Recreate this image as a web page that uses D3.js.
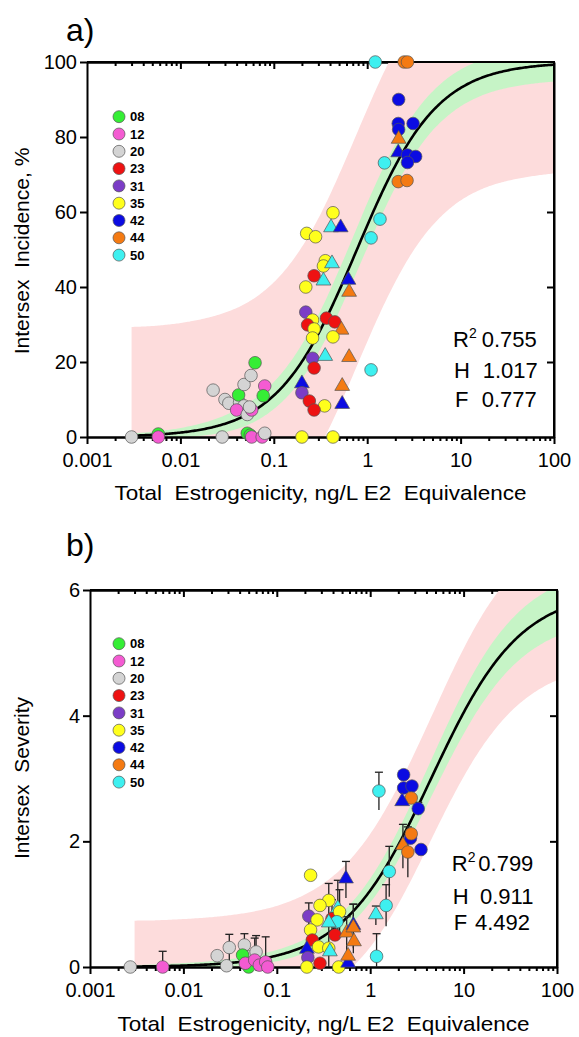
<!DOCTYPE html>
<html>
<head>
<meta charset="utf-8">
<script src="https://cdn.jsdelivr.net/npm/d3@7"></script>
<style>
  body { margin: 0; background: #fff; }
  svg text { font-family: Arial, "Liberation Sans", sans-serif; }
</style>
</head>
<body>
<script>
// legend: sampling sites and their colours
var sites = ["08","12","20","23","31","35","42","44","50"];
var siteColors = ["#35ee35","#f45bd2","#d4d4d4","#ee1212","#7b3dc6","#ffff1c","#0b0be2","#f47a12","#3ef0f0"];

var xTickVals = [0.001, 0.01, 0.1, 1, 10, 100];
var xTickText = ["0.001", "0.01", "0.1", "1", "10", "100"];

// a) intersex incidence (%), tri = 1 for triangle markers
var incSite = ["20","08","12","20","08","08","12","12","20","35","35",
  "20","20","20","20","08","20","20","08","12","08","20","12","20","12","20",
  "35","35","50","23","35","50","42","44","31","35","23","23","23","35","44","35","35","31","50","44","23","42","31","44","23","35","23","42",
  "50","50","44","44","42","42","42","42","44","42","42","42","42","50","44","44","35","35","35","50","42","50","50"];
var incTri = [0,0,0,0,0,0,0,0,0,0,0,
  0,0,0,0,0,0,0,0,0,0,0,0,0,0,0,
  0,0,1,0,0,1,1,1,0,0,0,0,0,0,1,0,0,0,1,1,0,1,0,1,0,0,0,1,
  0,0,0,0,0,0,0,0,1,1,0,0,0,0,0,0,0,0,0,1,1,0,0];
var incX = [0.003,0.0058,0.0058,0.028,0.052,0.056,0.058,0.075,0.08,0.2,0.43,
  0.0224,0.03,0.033,0.043,0.042,0.048,0.057,0.063,0.08,0.077,0.048,0.04,0.052,0.058,0.055,
  0.356,0.34,0.42,0.27,0.22,0.34,0.63,0.64,0.22,0.26,0.23,0.366,0.45,0.27,0.53,0.26,0.43,0.26,0.355,0.64,0.27,0.2,0.2,0.54,0.24,0.35,0.27,0.54,
  1.1,1.22,2.49,2.7,2.17,2.15,3.1,2.17,2.17,2.15,2.7,3.3,2.7,1.53,2.15,2.67,0.43,0.225,0.28,0.41,0.52,1.37,1.1];
var incY = [0,0.8,0,0,1,0.5,0,0,1,0,0,
  12.5,10,9,9.2,11.2,14,16.4,19.8,13.6,11,8.3,7.2,6,7.2,8,
  47,45.6,46,43,40,41.4,41.6,38.4,33.3,31.2,29.9,31.7,30.7,28.8,28.3,26.4,26.7,21,21.3,21,18.4,14,11.8,13.3,9.6,8.3,7.2,8.5,
  17.9,100,100,100,90,83.6,83.6,82,79.2,75.6,75.2,74.8,73.2,73.1,68.1,68.4,59.8,54.3,53.4,55.6,55.6,58.1,53.1];

// b) intersex severity, with error (SD)
var sevSite = ["20","12","20","20","20","20","20","20","08","08","12","12","12","12","12",
  "35","42","35","35","50","31","35","23","35","50","50","35","23","23","35","42","35","50","31","23","35","35",
  "44","42","44","44","42","44","50","50","50","50","50",
  "42","42","42","44","42","42","42","44","44","44","42"];
var sevTri = [0,0,0,0,0,0,0,0,0,0,0,0,0,0,0,
  0,1,0,0,1,0,0,0,0,0,1,0,0,0,0,1,0,1,0,0,0,0,
  1,1,1,1,1,1,0,1,0,0,0,
  0,0,0,0,1,0,0,0,1,0,0];
var sevX = [0.0027,0.006,0.023,0.029,0.031,0.045,0.05,0.06,0.043,0.05,0.046,0.058,0.065,0.076,0.08,
  0.23,0.55,0.36,0.29,0.45,0.22,0.27,0.39,0.47,0.44,0.36,0.23,0.42,0.24,0.28,0.21,0.36,0.37,0.215,0.29,0.21,0.46,
  0.56,0.66,0.66,0.67,0.58,0.58,1.17,1.15,1.48,1.6,1.24,
  2.28,2.28,2.8,2.75,2.2,3.27,2.7,2.75,2.24,2.53,3.5];
var sevY = [0,0,0.18,0.02,0.31,0.35,0.16,0.24,0.19,0,0.06,0.11,0.03,0.08,0,
  1.46,1.39,1.06,0.98,0.92,0.81,0.75,0.77,0.88,0.72,0.69,0.59,0.51,0.43,0.32,0.27,0.3,0.23,0.15,0.06,0,0,
  0.53,0.65,0.61,0.39,0.05,0.16,0.17,0.82,0.98,1.52,2.8,
  3.06,2.85,2.88,2.69,2.62,2.52,2.05,2.12,1.92,1.83,1.87];
var sevErr = [0,0.25,0,0,0.21,0.18,0,0.26,0,0,0,0.35,0,0.4,0,
  0,0.29,0.27,0,0.46,0.21,0,0.3,0.35,0,0,0,0,0,0,0,0.4,0,0,0,0,0,
  0.27,0.35,0.39,0,0,0,0.36,0.15,0.33,0.4,0.3,
  0,0,0,0,0,0.1,0,0,0.35,0.4,0];

// fitted curves (parameters printed on the chart)
var incTop = 100, incH = 1.017, incF = 0.777, incR2 = "0.755";
var sevTop = 6, sevH = 0.911, sevF = 4.492, sevR2 = "0.799";

// confidence (green) and prediction (pink) band half-widths read at bandX
var bandX = [0.003,0.005,0.01,0.02,0.05,0.1,0.2,0.5,1,2,5,10,20,50,100];
var incCiHalf = [0.6,0.8,1.2,1.8,2.8,3.6,4.6,5.6,6,5.8,5.2,4.9,4.7,4.6,4.5];
var incPiHalf = [29,29,29.2,29.5,29.8,30.2,30.6,31,31,31,30.5,30,29.6,29.3,29];
var sevCiHalf = [0.02,0.03,0.04,0.05,0.07,0.09,0.11,0.15,0.19,0.24,0.3,0.34,0.37,0.39,0.4];
var sevPiHalf = [0.73,0.73,0.74,0.75,0.77,0.79,0.82,0.86,0.9,0.94,0.98,1.02,1.06,1.09,1.1];

var W = 579, H = 1037;
var svg = d3.select("body").append("svg").attr("width", W).attr("height", H);
var color = d3.scaleOrdinal(sites, siteColors);

function hill(x, top, h, f) {
  return top * Math.pow(x, h) / (Math.pow(x, h) + Math.pow(f, h));
}

function drawPanel(o) {
  var g = svg.append("g");
  var x = d3.scaleLog().domain([0.001, 100]).range([o.x0, o.x1]);
  var y = d3.scaleLinear().domain([0, o.top]).range([o.y0, o.y1]);
  var minors = [];
  [0.001, 0.01, 0.1, 1, 10].forEach(function(d) {
    for (var k = 2; k <= 9; k++) minors.push(d * k);
  });

  function styleAxis(sel) {
    sel.selectAll("path, line").attr("stroke", "#000").attr("stroke-width", 2);
    sel.attr("font-size", 20).attr("font-family", "Arial, 'Liberation Sans', sans-serif");
    sel.selectAll("text").attr("fill", "#000");
  }

  // inward ticks on top and right (partly hidden by the bands)
  g.append("g").attr("transform", "translate(0," + o.y1 + ")")
    .call(d3.axisBottom(x).tickValues(xTickVals.slice(1, 5)).tickSize(7).tickSizeOuter(0).tickFormat(""))
    .call(styleAxis);
  g.append("g").attr("transform", "translate(0," + o.y1 + ")")
    .call(d3.axisBottom(x).tickValues(minors).tickSize(4).tickSizeOuter(0).tickFormat(""))
    .call(styleAxis);
  g.append("g").attr("transform", "translate(" + o.x1 + ",0)")
    .call(d3.axisLeft(y).tickValues(o.rightTicks).tickSize(7).tickSizeOuter(0).tickFormat(""))
    .call(styleAxis);

  // bands
  var clipId = "clip" + o.name;
  g.append("clipPath").attr("id", clipId).append("rect")
    .attr("x", o.x0).attr("y", o.y1).attr("width", o.x1 - o.x0).attr("height", o.y0 - o.y1);
  var grid = d3.range(0, 301).map(function(i) {
    return Math.pow(10, Math.log10(0.003) + i * (Math.log10(100) - Math.log10(0.003)) / 300);
  });
  var piHalf = d3.scaleLog().domain(bandX).range(o.piHalf);
  var ciHalf = d3.scaleLog().domain(bandX).range(o.ciHalf);
  var fit = function(v) { return hill(v, o.top, o.h, o.f); };
  var bands = g.append("g").attr("clip-path", "url(#" + clipId + ")");
  bands.append("path").datum(grid).attr("fill", "#fddcdc")
    .attr("d", d3.area().x(function(d) { return x(d); })
      .y0(function(d) { return y(fit(d) - piHalf(d)); })
      .y1(function(d) { return y(fit(d) + piHalf(d)); }));
  bands.append("path").datum(grid).attr("fill", "#c6f4c6")
    .attr("d", d3.area().x(function(d) { return x(d); })
      .y0(function(d) { return y(fit(d) - ciHalf(d)); })
      .y1(function(d) { return y(fit(d) + ciHalf(d)); }));

  // frame lines top / right
  g.append("line").attr("x1", o.x0).attr("x2", o.x1).attr("y1", o.y1).attr("y2", o.y1)
    .attr("stroke", "#000").attr("stroke-width", 2);
  g.append("line").attr("x1", o.x1).attr("x2", o.x1).attr("y1", o.y1 - 1).attr("y2", o.y0)
    .attr("stroke", "#000").attr("stroke-width", 2);

  // fitted curve
  g.append("path").datum(grid).attr("fill", "none").attr("stroke", "#000").attr("stroke-width", 2.6)
    .attr("clip-path", "url(#" + clipId + ")")
    .attr("d", d3.line().x(function(d) { return x(d); }).y(function(d) { return y(fit(d)); }));

  // left and bottom axes
  g.append("g").attr("transform", "translate(" + o.x0 + ",0)")
    .call(d3.axisLeft(y).tickValues(o.yTicks).tickSize(7).tickSizeOuter(0).tickPadding(3)
      .tickFormat(d3.format("d")))
    .call(styleAxis);
  g.append("g").attr("transform", "translate(0," + o.y0 + ")")
    .call(d3.axisBottom(x).tickValues(minors).tickSize(4).tickSizeOuter(0).tickFormat(""))
    .call(styleAxis);
  g.append("g").attr("transform", "translate(0," + o.y0 + ")")
    .call(d3.axisBottom(x).tickValues(xTickVals).tickSize(7).tickSizeOuter(0).tickPadding(9)
      .tickFormat(function(d, i) { return xTickText[i]; }))
    .call(styleAxis);

  // error bars
  if (o.err) {
    var eb = g.append("g").attr("stroke", "#222").attr("stroke-width", 1.3);
    o.px.forEach(function(v, i) {
      var e = o.err[i];
      if (!e) return;
      var cx = x(v), top = y(o.py[i] + e), bot = y(Math.max(0, o.py[i] - e));
      eb.append("line").attr("x1", cx).attr("x2", cx).attr("y1", top).attr("y2", bot);
      eb.append("line").attr("x1", cx - 4).attr("x2", cx + 4).attr("y1", top).attr("y2", top);
    });
  }

  // markers
  var mk = g.append("g");
  o.px.forEach(function(v, i) {
    var c = color(o.site[i]);
    if (o.tri[i]) {
      mk.append("path").attr("d", d3.symbol(d3.symbolTriangle, 95)())
        .attr("transform", "translate(" + x(v) + "," + (y(o.py[i]) - 1) + ")")
        .attr("fill", c).attr("stroke", "#555").attr("stroke-width", 0.7);
    } else {
      mk.append("circle").attr("cx", x(v)).attr("cy", y(o.py[i])).attr("r", 6.3)
        .attr("fill", c).attr("stroke", "#555").attr("stroke-width", 0.7);
    }
  });

  // legend
  var lg = g.append("g");
  sites.forEach(function(s, i) {
    var ly = o.legendY + i * 17.3;
    lg.append("circle").attr("cx", 119).attr("cy", ly).attr("r", 6)
      .attr("fill", color(s)).attr("stroke", "#555").attr("stroke-width", 0.7);
    lg.append("text").attr("x", 130).attr("y", ly).attr("dy", "0.36em")
      .attr("font-size", 13).attr("font-weight", "bold").text(s);
  });

  // panel letter and titles
  g.append("text").attr("x", 66).attr("y", o.letterY).attr("font-size", 32).text(o.letter);
  g.append("text").attr("x", (o.x0 + o.x1) / 2).attr("y", o.xTitleY).attr("text-anchor", "middle")
    .attr("font-size", 21).style("white-space", "pre")
    .attr("textLength", 412).attr("lengthAdjust", "spacingAndGlyphs")
    .text("Total  Estrogenicity, ng/L E2  Equivalence");
  g.append("text").attr("transform", "translate(29," + o.yTitleY + ") rotate(-90)")
    .attr("text-anchor", "middle").attr("font-size", 21).style("white-space", "pre")
    .text(o.yTitle);

  // fit statistics
  var st = g.append("g").attr("font-size", 22);
  st.append("text").attr("x", o.stat.rx).attr("y", o.stat.ry).text("R");
  st.append("text").attr("x", o.stat.rx + 16).attr("y", o.stat.ry - 9).attr("font-size", 14).text("2");
  st.append("text").attr("x", o.stat.vx[0]).attr("y", o.stat.ry).text(o.r2);
  st.append("text").attr("x", o.stat.rx + 1).attr("y", o.stat.hy).text("H");
  st.append("text").attr("x", o.stat.vx[1]).attr("y", o.stat.hy).text(o.h.toFixed(3));
  st.append("text").attr("x", o.stat.rx + 2).attr("y", o.stat.fy).text("F");
  st.append("text").attr("x", o.stat.vx[2]).attr("y", o.stat.fy).text(o.f.toFixed(3));
}

drawPanel({
  name: "a", letter: "a)", letterY: 41,
  x0: 87, x1: 554, y0: 437, y1: 62,
  top: incTop, h: incH, f: incF, r2: incR2,
  yTicks: [0, 20, 40, 60, 80, 100], rightTicks: [20, 40, 60, 80],
  ciHalf: incCiHalf, piHalf: incPiHalf,
  px: incX, py: incY, site: incSite, tri: incTri, err: null,
  legendY: 116.7, xTitleY: 500, yTitleY: 251, yTitle: "Intersex  Incidence, %",
  stat: { rx: 453, ry: 347, hy: 378, fy: 407, vx: [481.7, 482.7, 481.7] }
});

drawPanel({
  name: "b", letter: "b)", letterY: 556,
  x0: 90, x1: 557, y0: 967, y1: 590,
  top: sevTop, h: sevH, f: sevF, r2: sevR2,
  yTicks: [0, 2, 4, 6], rightTicks: [2, 4],
  ciHalf: sevCiHalf, piHalf: sevPiHalf,
  px: sevX, py: sevY, site: sevSite, tri: sevTri, err: sevErr,
  legendY: 643.7, xTitleY: 1031, yTitleY: 778, yTitle: "Intersex  Severity",
  stat: { rx: 451.7, ry: 871, hy: 904, fy: 930, vx: [478.3, 480, 475] }
});
</script>
</body>
</html>
